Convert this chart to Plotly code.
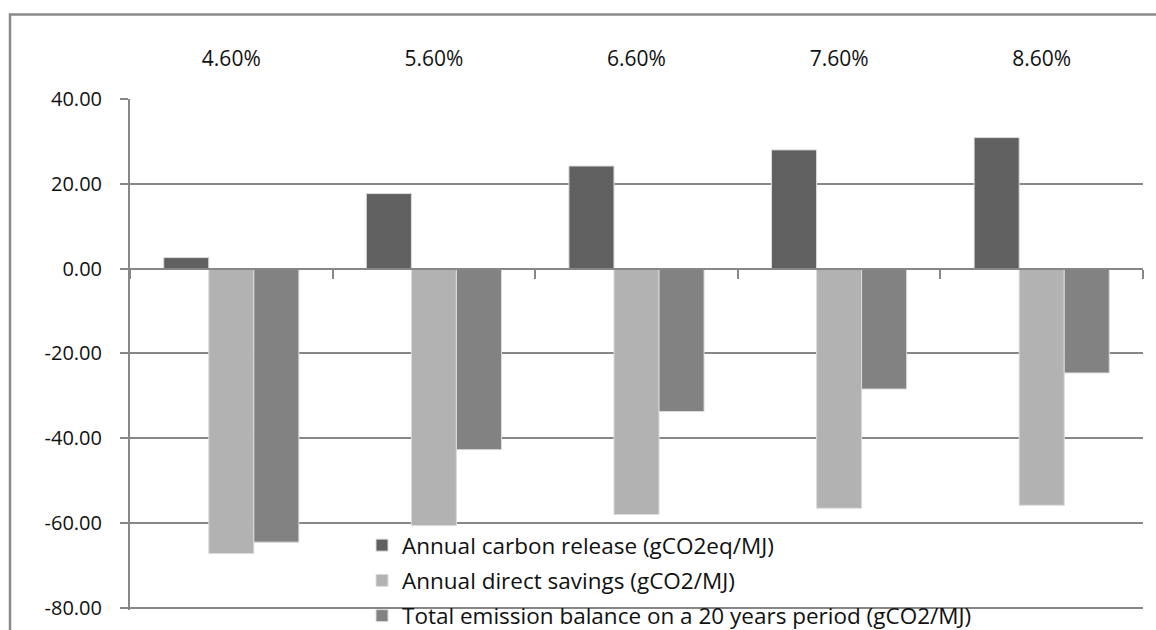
import plotly.graph_objects as go

# Discount-rate scenarios and the three emission series (g per MJ)
categories = ["4.60%", "5.60%", "6.60%", "7.60%", "8.60%"]
carbon_release = [2.6, 17.7, 24.2, 28.0, 30.9]
direct_savings = [-67.2, -60.6, -58.0, -56.5, -55.8]
total_balance = [-64.5, -42.7, -33.7, -28.4, -24.6]

series_names = [
    "Annual carbon release (gCO2eq/MJ)",
    "Annual direct savings (gCO2/MJ)",
    "Total emission balance on a 20 years period (gCO2/MJ)",
]
series_colors = ["#606060", "#b2b2b2", "#828282"]

y_ticks = [-80, -60, -40, -20, 0, 20, 40]
y_tick_text = [f"{v:.2f}" for v in y_ticks]

W, H = 1156, 630
ML, MR, MT, MB = 130, 13, 99, 20
PW, PH = W - ML - MR, H - MT - MB

GRID = "#878787"
TEXT = "#111111"
FONT = "Open Sans"

fig = go.Figure()
for name, vals, col in zip(series_names, [carbon_release, direct_savings, total_balance], series_colors):
    fig.add_trace(go.Bar(
        x=categories, y=vals, name=name, legendgroup=name,
        marker=dict(color=col, line=dict(color="#dcdcdc", width=1)),
    ))

n = len(categories)
# Transparent helper trace so the top category axis is laid out
fig.add_trace(go.Scatter(
    x=list(range(n)), y=[0] * n, xaxis="x2", mode="markers",
    marker=dict(opacity=0), showlegend=False, hoverinfo="skip",
))

# a little room below the lowest gridline so it is still drawn
y_min, y_max = y_ticks[0] - 0.5, y_ticks[-1]
zero_pos = (0 - y_min) / (y_max - y_min)

def py(pixel_y):
    """Page pixel row -> paper y coordinate."""
    return (H - MB - pixel_y) / PH

fig.update_layout(
    width=W, height=H,
    margin=dict(l=ML, r=MR, t=MT, b=MB, autoexpand=False),
    paper_bgcolor="white", plot_bgcolor="white",
    barmode="group", bargap=0.333, bargroupgap=0,
    font=dict(family=FONT, size=20, color=TEXT),
    xaxis=dict(
        type="category", range=[-0.5, n - 0.5],
        anchor="free", position=zero_pos,
        showline=True, linecolor=GRID, linewidth=2,
        ticks="outside", tickson="boundaries", ticklen=9, tickwidth=2, tickcolor=GRID,
        showticklabels=False, showgrid=False, zeroline=False,
    ),
    xaxis2=dict(
        type="linear", range=[-0.5, n - 0.5], overlaying="x", anchor="y", side="top",
        tickmode="array", tickvals=list(range(n)), ticktext=categories,
        ticks="", showline=False, showgrid=False, zeroline=False,
        ticklabelstandoff=28, tickfont=dict(family=FONT, size=21, color=TEXT),
    ),
    yaxis=dict(
        range=[y_min, y_max], tickmode="array", tickvals=y_ticks, ticktext=y_tick_text,
        showgrid=True, gridcolor=GRID, gridwidth=2, zeroline=False,
        showline=True, linecolor=GRID, linewidth=2,
        ticks="outside", ticklen=8, tickwidth=2, tickcolor=GRID,
        ticklabelstandoff=14, tickfont=dict(family=FONT, size=20, color=TEXT),
    ),
    legend=dict(
        x=(362 - ML) / PW, y=py(524), xanchor="left", yanchor="top",
        bgcolor="rgba(0,0,0,0)", borderwidth=0,
        traceorder="grouped", tracegroupgap=3,
        font=dict(family=FONT, size=22.5, color=TEXT),
    ),
    showlegend=True,
)

# Outer chart-area frame (open at the right and bottom edges of the page)
fig.add_shape(
    type="rect", xref="paper", yref="paper",
    x0=(10 - ML) / PW, x1=(W + 10 - ML) / PW,
    y0=py(H + 10), y1=py(14.5),
    line=dict(color="#8a8a8a", width=2.5), fillcolor="rgba(0,0,0,0)", layer="below",
)

fig.write_html("out.html")
